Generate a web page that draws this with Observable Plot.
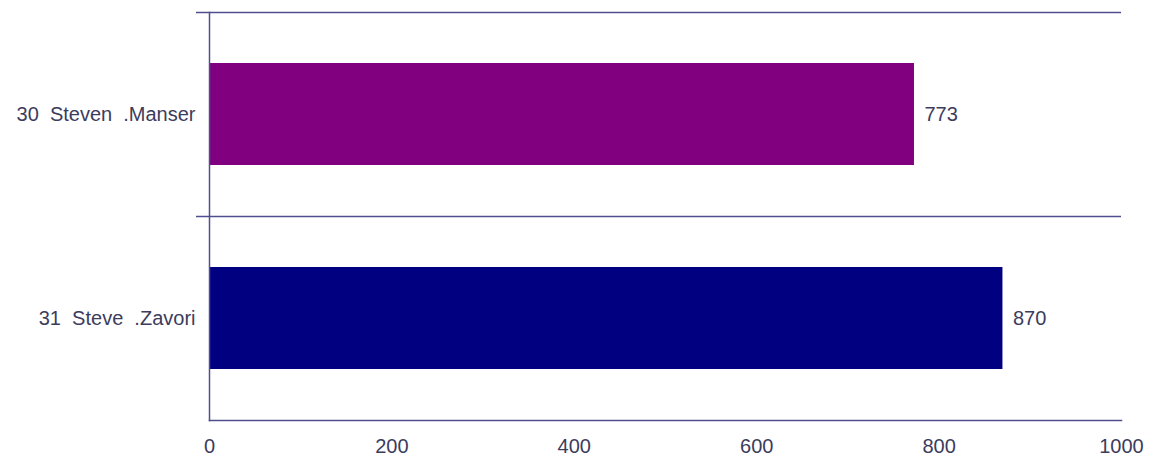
<!DOCTYPE html>
<html>
<head>
<meta charset="utf-8">
<script src="https://cdn.jsdelivr.net/npm/d3@7"></script>
<script src="https://cdn.jsdelivr.net/npm/@observablehq/plot@0.6"></script>
<style>
  html, body { margin: 0; padding: 0; background: #fff; }
  svg text { white-space: pre; }
</style>
</head>
<body>
<div id="chart"></div>
<script>
const names = ["30  Steven  .Manser", "31  Steve  .Zavori"];
const values = [773, 870];
const colors = ["#800080", "#000080"];
const xTicks = [0, 200, 400, 600, 800, 1000];

const data = names.map((n, i) => ({name: n, value: values[i], color: colors[i]}));
const lineColor = "#4f4f8f";
const textColor = "#3c3c5c";

const chart = Plot.plot({
  width: 1153,
  height: 461,
  marginLeft: 209,
  marginRight: 32,
  marginTop: 12,
  marginBottom: 41,
  style: {fontFamily: "'Liberation Sans', Arial, sans-serif", background: "#fff"},
  x: {domain: [0, 1000], ticks: xTicks},
  y: {domain: names, paddingInner: 0.5, paddingOuter: 0.25},
  marks: [
    Plot.barX(data, {x: "value", y: "name", fill: "color"}),
    Plot.ruleY(names, {y: d => d, dy: -102, stroke: lineColor, strokeWidth: 1.5, insetLeft: -13}),
    Plot.frame({anchor: "bottom", stroke: lineColor, strokeWidth: 1.5}),
    Plot.frame({anchor: "left", stroke: lineColor, strokeWidth: 1.5}),
    Plot.text(data, {x: "value", y: "name", text: d => String(d.value), textAnchor: "start", dx: 10, fill: textColor, fontSize: 20}),
    Plot.axisX({ticks: xTicks, tickFormat: d => String(d), tickSize: 0, tickPadding: 18, fontSize: 20, color: textColor, label: null}),
    Plot.axisY({tickSize: 0, tickPadding: 14, fontSize: 20, color: textColor, label: null})
  ]
});
document.getElementById("chart").appendChild(chart);
</script>
</body>
</html>
